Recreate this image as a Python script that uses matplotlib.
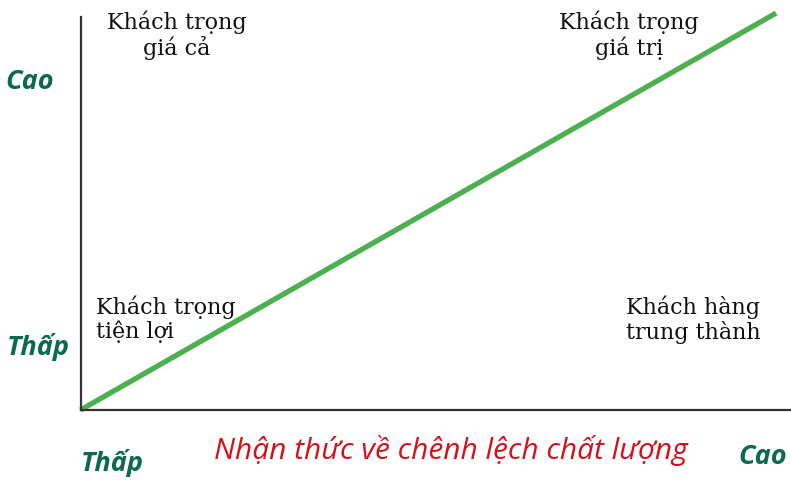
import matplotlib
matplotlib.use("Agg")
import matplotlib.pyplot as plt

# dữ liệu
line_x = [0.0, 0.979]
line_y = [0.0, 1.01]
quad_labels = ["Khách trọng\ngiá cả", "Khách trọng\ngiá trị",
               "Khách trọng\ntiện lợi", "Khách hàng\ntrung thành"]
quad_x = [0.135, 0.772, 0.022, 0.862]
quad_y = [1.016, 1.016, 0.292, 0.292]
quad_ha = ["center", "center", "left", "center"]
y_levels = ["Cao", "Thấp"]
x_levels = ["Thấp", "Cao"]
x_title = "Nhận thức về chênh lệch chất lượng"

green_txt = "#0b6b48"
fig = plt.figure(figsize=(7.91, 4.80), dpi=100)
ax = fig.add_axes([80.5 / 791, 70 / 480, 1 - 80.5 / 791, 393 / 480])
ax.set_xlim(0, 1)
ax.set_ylim(0, 1)

ax.plot(line_x, line_y, color="#4caf50", lw=3.8, solid_capstyle="butt", clip_on=False)

for s in ["top", "right"]:
    ax.spines[s].set_visible(False)
for s in ["left", "bottom"]:
    ax.spines[s].set_color("#333333")
    ax.spines[s].set_linewidth(1.6)
ax.set_xticks([])
ax.set_yticks([])

serif = ["DejaVu Serif"]
for t, x, y, ha in zip(quad_labels, quad_x, quad_y, quad_ha):
    ax.text(x, y, t, ha=ha, va="top", fontsize=16, family=serif, clip_on=False,
            color="#111111", linespacing=1.12, multialignment="left" if ha == "left" else "center")

gkw = dict(fontsize=19.5, fontweight="bold", fontstyle="italic", color=green_txt, family="Open Sans")
# nhãn trục y
fig.text(30 / 791, 1 - 82 / 480, y_levels[0], ha="center", va="center", **gkw)
fig.text(38 / 791, 1 - 347 / 480, y_levels[1], ha="center", va="center", **gkw)
# nhãn trục x
fig.text(112 / 791, 1 - 463 / 480, x_levels[0], ha="center", va="center", **gkw)
fig.text(787 / 791, 1 - 457 / 480, x_levels[1], ha="right", va="center", **gkw)
fig.text(451 / 791, 1 - 451 / 480, x_title, ha="center", va="center", fontsize=21.5,
         fontstyle="italic", color="#d4111a", family="Open Sans")

fig.savefig("out.png", dpi=100)
